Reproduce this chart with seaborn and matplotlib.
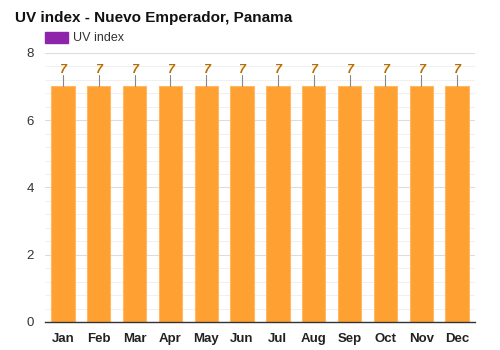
import matplotlib
matplotlib.use("Agg")
import matplotlib.pyplot as plt
import seaborn as sns
import pandas as pd
import numpy as np

months = ["Jan", "Feb", "Mar", "Apr", "May", "Jun", "Jul", "Aug", "Sep", "Oct", "Nov", "Dec"]
uv_values = [7, 7, 7, 7, 7, 7, 7, 7, 7, 7, 7, 7]
y_ticks = [0, 2, 4, 6, 8]

df = pd.DataFrame({"month": months, "uv": uv_values})

sns.set_theme(style="white")
plt.rcParams['font.family'] = ['Liberation Sans', 'DejaVu Sans']

fig = plt.figure(figsize=(5, 3.5), dpi=100)
ax = fig.add_axes([0.09, 0.08, 0.86, 0.769])

# grid
for v in np.arange(0, 8.01, 0.4):
    ax.axhline(v, color="#eeeeee", lw=0.6, zorder=0)
for v in y_ticks:
    ax.axhline(v, color="#dddddd", lw=0.8, zorder=0)

sns.barplot(data=df, x="month", y="uv", color="#FFA033", saturation=1,
            width=0.65, edgecolor="#FFB866", linewidth=0.8, ax=ax, zorder=2)

for i, v in enumerate(uv_values):
    ax.plot([i, i], [v, v + 0.33], color="#888888", lw=0.8, zorder=3)
    ax.text(i, v + 0.5, str(v), ha="center", va="center", fontsize=9,
            fontweight="bold", fontstyle="italic", color="#B86E00", zorder=4)

ax.set_ylim(0, 8)
ax.set_xlim(-0.5, 11.5)
ax.set_yticks(y_ticks)
ax.set_yticklabels([str(t) for t in y_ticks], fontsize=9.5, color="#333333")
ax.set_xticklabels(months, fontsize=9.5, fontweight="bold", color="#222222")
ax.set_xlabel("")
ax.set_ylabel("")
ax.tick_params(axis="both", length=0, pad=8)
ax.tick_params(axis="x", pad=8)
for s in ["top", "right", "left"]:
    ax.spines[s].set_visible(False)
ax.spines["bottom"].set_color("#333333")
ax.spines["bottom"].set_linewidth(1)

fig.text(0.03, 0.948, "UV index - Nuevo Emperador, Panama", fontsize=11,
         fontweight="bold", color="#111111", ha="left", va="center")
fig.patches.append(plt.Rectangle((0.09, 0.877), 0.046, 0.032, transform=fig.transFigure,
                                 color="#8E24AA", figure=fig))
fig.text(0.146, 0.892, "UV index", fontsize=9, color="#333333", ha="left", va="center")

fig.savefig("out.png", dpi=100)
